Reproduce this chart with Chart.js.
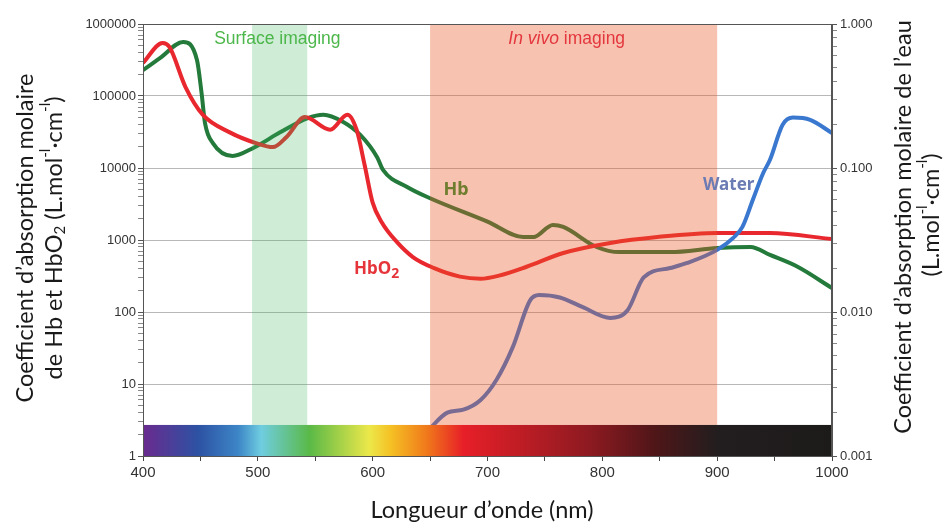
<!DOCTYPE html>
<html>
<head>
<meta charset="utf-8">
<script src="https://cdn.jsdelivr.net/npm/chart.js@4.4.0/dist/chart.umd.min.js"></script>
<style>
  body { margin: 0; background: #fff; }
  #wrap { width: 952px; height: 525px; }
</style>
</head>
<body>
<div id="wrap"><canvas id="spectrumChart" width="952" height="525"></canvas></div>
<script>
// Hb (desoxyhemoglobine), axe de gauche
const hbNm  = [400, 415, 435, 447, 451, 454, 461, 478, 496, 519, 543, 557, 574, 589, 604, 609, 630, 650, 700, 731, 740, 757, 766, 795, 815, 859, 900, 929, 946, 970, 1000];
const hbVal = [229000, 338000, 562000, 316000, 110000, 42000, 22000, 14700, 19000, 31000, 49000, 55000, 44000, 29000, 14000, 9400, 5450, 3800, 1800, 1100, 1100, 1620, 1520, 800, 680, 680, 775, 800, 620, 425, 215];

// HbO2, axe de gauche
const hbo2Nm  = [400, 417, 423, 437, 452, 476, 499, 513, 525, 541, 563, 578, 586, 593, 600, 608, 621, 635, 653, 676, 694, 710, 734, 766, 807, 848, 900, 946, 1000];
const hbo2Val = [288000, 545000, 480000, 133000, 55000, 31000, 22000, 19500, 27000, 51000, 34000, 55000, 34000, 11000, 3300, 1750, 940, 580, 410, 310, 290, 320, 425, 660, 910, 1100, 1250, 1250, 1030];

// eau, axe de droite
const waterNm  = [648, 665, 679, 694, 708, 722, 737, 745, 763, 783, 807, 822, 836, 859, 874, 900, 914, 922, 931, 940, 946, 957, 966, 981, 1000];
const waterVal = [0.0015, 0.0020, 0.0021, 0.00245, 0.0034, 0.0057, 0.012, 0.0131, 0.0126, 0.0108, 0.0091, 0.0103, 0.0174, 0.0202, 0.0219, 0.027, 0.0327, 0.039, 0.06, 0.092, 0.114, 0.2, 0.224, 0.216, 0.175];

// zones d'imagerie
const bandStart = [495, 650];
const bandEnd   = [543, 900];
const bandColor = ['rgba(60,180,90,0.25)', 'rgba(236,85,40,0.36)'];

// bande du spectre visible
const spectrumTop = 2.7;
const spectrumNm = [400, 448, 483, 503, 545, 597, 616, 648, 679, 788, 847, 901, 1000];
const spectrumColors = ['#6a2a8e', '#2d52a3', '#3d86c7', '#6fcde0', '#5ab947', '#ece84a', '#f5c024', '#f0771b', '#e71f28', '#8e1a21', '#4e1618', '#221e1f', '#1d1a1a'];

// graduations
const xTicks = [400, 450, 500, 550, 600, 650, 700, 750, 800, 850, 900, 950, 1000];
const leftTicks = [];
for (let e = 0; e < 6; e++) for (let d = 1; d < 10; d++) leftTicks.push(d * Math.pow(10, e));
leftTicks.push(1000000);
const rightTicks = [];
for (let e = -3; e < 0; e++) for (let d = 1; d < 10; d++) rightTicks.push(+(d * Math.pow(10, e)).toFixed(4));
rightTicks.push(1);

function isMajor(v) {
    const l = Math.log10(v);
    return Math.abs(l - Math.round(l)) < 1e-9;
}

function toPoints(xs, ys) {
    return xs.map((x, i) => ({ x: x, y: ys[i] }));
}

// texte avec indices / exposants
function drawRich(ctx, parts, x, y, size, family, color, rotate, align) {
    ctx.save();
    ctx.translate(x, y);
    if (rotate) ctx.rotate(-Math.PI / 2);
    ctx.fillStyle = color;
    ctx.textBaseline = 'middle';
    ctx.textAlign = 'left';
    const fontOf = p => (p.italic ? 'italic ' : '') + (p.bold ? 'bold ' : '') + ((p.sup || p.sub) ? Math.round(size * (p.k || 0.62)) : size) + 'px ' + family;
    let total = 0;
    parts.forEach(p => { ctx.font = fontOf(p); total += ctx.measureText(p.t).width; });
    let cx = align === 'left' ? 0 : -total / 2;
    parts.forEach(p => {
        ctx.font = fontOf(p);
        const dy = p.sup ? -size * 0.38 : (p.sub ? size * 0.28 : 0);
        ctx.fillText(p.t, cx, dy);
        cx += ctx.measureText(p.t).width;
    });
    ctx.restore();
}

const overlayPlugin = {
    id: 'overlay',
    afterDatasetsDraw(chart) {
        const ctx = chart.ctx;
        const xs = chart.scales.x, ys = chart.scales.y;
        const area = chart.chartArea;
        const barTop = ys.getPixelForValue(spectrumTop);
        const barBottom = ys.getPixelForValue(1);

        ctx.save();
        // zones transparentes par-dessus les courbes
        bandStart.forEach((s, i) => {
            const x0 = xs.getPixelForValue(s), x1 = xs.getPixelForValue(bandEnd[i]);
            ctx.fillStyle = bandColor[i];
            ctx.fillRect(x0, area.top, x1 - x0, barTop - area.top);
        });

        // spectre
        const gx0 = xs.getPixelForValue(400), gx1 = xs.getPixelForValue(1000);
        const grad = ctx.createLinearGradient(gx0, 0, gx1, 0);
        spectrumNm.forEach((nm, i) => grad.addColorStop((nm - 400) / 600, spectrumColors[i]));
        ctx.fillStyle = grad;
        ctx.fillRect(gx0, barTop, gx1 - gx0, barBottom - barTop);

        // cadre
        ctx.strokeStyle = '#555';
        ctx.lineWidth = 1;
        ctx.strokeRect(area.left + 0.5, area.top + 0.5, area.right - area.left - 1, area.bottom - area.top);
        ctx.restore();

        // textes dans le graphique
        drawRich(ctx, [{ t: 'Surface imaging' }], xs.getPixelForValue(517), 39, 17.5, '"Liberation Sans", Arial', '#4cb74a', false);
        drawRich(ctx, [{ t: 'In vivo', italic: true }, { t: ' imaging' }], xs.getPixelForValue(769), 39, 17.5, '"Liberation Sans", Arial', '#e3373d', false);
        drawRich(ctx, [{ t: 'Hb', bold: true }], 456, 190, 18, '"Noto Sans"', '#6f7d2e', false);
        drawRich(ctx, [{ t: 'HbO', bold: true }, { t: '2', bold: true, sub: true, k: 0.85 }], 354, 269, 17, '"Noto Sans"', '#e5343a', false, 'left');
        drawRich(ctx, [{ t: 'Water', bold: true }], 703, 185, 17, '"Noto Sans"', '#6b7bb3', false, 'left');

        // titres des axes
        const tf = 'Lato, "Open Sans", sans-serif';
        const ts = 23.5;
        drawRich(ctx, [{ t: 'Longueur d\u2019onde (nm)' }], 482, 510, ts, tf, '#1a1a1a', false);
        drawRich(ctx, [{ t: 'Coefficient d\u2019absorption molaire' }], 25, 238, ts, tf, '#1a1a1a', true);
        drawRich(ctx, [{ t: 'de Hb et HbO' }, { t: '2', sub: true }, { t: ' (L.mol' }, { t: '-l', sup: true }, { t: '\u00b7cm' }, { t: '-l', sup: true }, { t: ')' }], 54, 238, ts, tf, '#1a1a1a', true);
        drawRich(ctx, [{ t: 'Coefficient d\u2019absorption molaire de l\u2019eau' }], 903, 227, ts, tf, '#1a1a1a', true);
        drawRich(ctx, [{ t: '(L.mol' }, { t: '-l', sup: true }, { t: '\u00b7cm' }, { t: '-l', sup: true }, { t: ')' }], 931, 215, ts, tf, '#1a1a1a', true);
    }
};

const tickFont = { family: '"Liberation Sans", Arial', size: 13 };

new Chart(document.getElementById('spectrumChart'), {
    type: 'line',
    data: {
        datasets: [
            {
                label: 'Water',
                data: toPoints(waterNm, waterVal),
                yAxisID: 'y2',
                borderColor: '#3a78d0',
            },
            {
                label: 'HbO2',
                data: toPoints(hbo2Nm, hbo2Val),
                yAxisID: 'y',
                borderColor: '#e8282e',
            },
            {
                label: 'Hb',
                data: toPoints(hbNm, hbVal),
                yAxisID: 'y',
                borderColor: '#237a3b',
            },
        ],
    },
    options: {
        responsive: false,
        animation: false,
        layout: { padding: { top: 24, left: 0, right: 0, bottom: 0 } },
        elements: {
            point: { radius: 0 },
            line: { borderWidth: 4, cubicInterpolationMode: 'monotone', fill: false },
        },
        plugins: {
            legend: { display: false },
            tooltip: { enabled: false },
        },
        scales: {
            x: {
                type: 'linear',
                min: 400,
                max: 1000,
                afterBuildTicks: s => { s.ticks = xTicks.map(v => ({ value: v })); },
                afterFit: s => { s.height = 69; },
                ticks: {
                    autoSkip: false,
                    maxRotation: 0,
                    padding: 3,
                    color: '#333',
                    font: { family: '"Liberation Sans", Arial', size: 15 },
                    callback: v => (v % 100 === 0 ? String(v) : ''),
                },
                grid: { drawOnChartArea: false, tickLength: 5, color: '#444' },
                border: { color: '#555' },
            },
            y: {
                type: 'logarithmic',
                position: 'left',
                min: 1,
                max: 1000000,
                afterBuildTicks: s => { s.ticks = leftTicks.map(v => ({ value: v, major: isMajor(v) })); },
                afterFit: s => { s.width = 143; },
                ticks: {
                    autoSkip: false,
                    padding: 2,
                    color: '#333',
                    font: tickFont,
                    callback: v => (isMajor(v) ? String(Math.round(v)) : ''),
                },
                grid: {
                    tickLength: 5,
                    color: c => (c.tick && isMajor(c.tick.value) ? '#b8b8b8' : 'rgba(0,0,0,0)'),
                    tickColor: c => (c.tick && isMajor(c.tick.value) ? '#555' : '#888'),
                },
                border: { color: '#555' },
            },
            y2: {
                type: 'logarithmic',
                position: 'right',
                min: 0.001,
                max: 1,
                afterBuildTicks: s => { s.ticks = rightTicks.map(v => ({ value: v, major: isMajor(v) })); },
                afterFit: s => { s.width = 120; },
                ticks: {
                    autoSkip: false,
                    padding: 3,
                    color: '#333',
                    font: tickFont,
                    callback: v => (isMajor(v) ? v.toFixed(3) : ''),
                },
                grid: {
                    drawOnChartArea: false,
                    tickLength: 5,
                    tickColor: c => (c.tick && isMajor(c.tick.value) ? '#555' : '#888'),
                },
                border: { color: '#555' },
            },
        },
    },
    plugins: [overlayPlugin],
});
</script>
</body>
</html>
